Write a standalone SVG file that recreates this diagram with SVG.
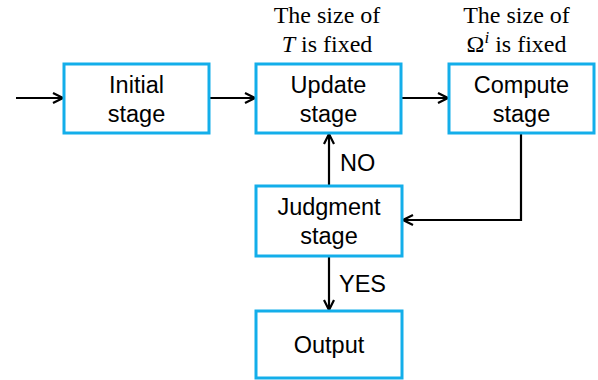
<svg xmlns="http://www.w3.org/2000/svg" width="598" height="380" viewBox="0 0 598 380">
<defs>
<marker id="arr" viewBox="0 0 12 12" refX="11" refY="6" markerWidth="12" markerHeight="12" markerUnits="userSpaceOnUse" orient="auto">
<path d="M1,1 L11,6 L1,11" fill="none" stroke="#000" stroke-width="2.2"/>
</marker>
<style>
.box{fill:#fff;stroke:#13aeea;stroke-width:3}
.t{font-family:"Liberation Sans",Arial,sans-serif;font-size:23.5px;fill:#000;text-anchor:middle}
.l{font-family:"Liberation Sans",Arial,sans-serif;font-size:23.5px;fill:#000}
.n{font-family:"Liberation Serif","Times New Roman",serif;font-size:24px;fill:#000;text-anchor:middle}
.c{fill:none;stroke:#000;stroke-width:2.2;marker-end:url(#arr)}
</style>
</defs>
<g id="connectors">
<line class="c" x1="16" y1="98" x2="63" y2="98"/>
<line class="c" x1="210" y1="98" x2="255" y2="98"/>
<line class="c" x1="402" y1="98" x2="448" y2="98"/>
<polyline class="c" points="521,134 521,220 403,220"/>
<line class="c" x1="329" y1="186" x2="329" y2="134"/>
<line class="c" x1="329" y1="257" x2="329" y2="310"/>
<text class="l" x="340" y="171">NO</text>
<text class="l" x="339" y="292">YES</text>
</g>
<g id="initial">
<rect class="box" x="64" y="64" width="145" height="69"/>
<text class="t" x="136.5" y="93">Initial</text>
<text class="t" x="136.5" y="122">stage</text>
</g>
<g id="update">
<rect class="box" x="256" y="64" width="145" height="69"/>
<text class="t" x="328.5" y="93">Update</text>
<text class="t" x="328.5" y="122">stage</text>
<text class="n" x="327" y="23">The size of</text>
<text class="n" x="327" y="52"><tspan font-style="italic">T</tspan> is fixed</text>
</g>
<g id="compute">
<rect class="box" x="449" y="64" width="145" height="69"/>
<text class="t" x="521.5" y="93">Compute</text>
<text class="t" x="521.5" y="122">stage</text>
<text class="n" x="516.5" y="23">The size of</text>
<text class="n" x="516.5" y="52">Ω<tspan font-style="italic" font-size="17" dy="-9">i</tspan><tspan dy="9"> is fixed</tspan></text>
</g>
<g id="judgment">
<rect class="box" x="256" y="186" width="146" height="70"/>
<text class="t" x="329" y="215">Judgment</text>
<text class="t" x="329" y="244">stage</text>
</g>
<g id="output">
<rect class="box" x="256" y="311" width="146" height="67"/>
<text class="t" x="329" y="353">Output</text>
</g>
</svg>
